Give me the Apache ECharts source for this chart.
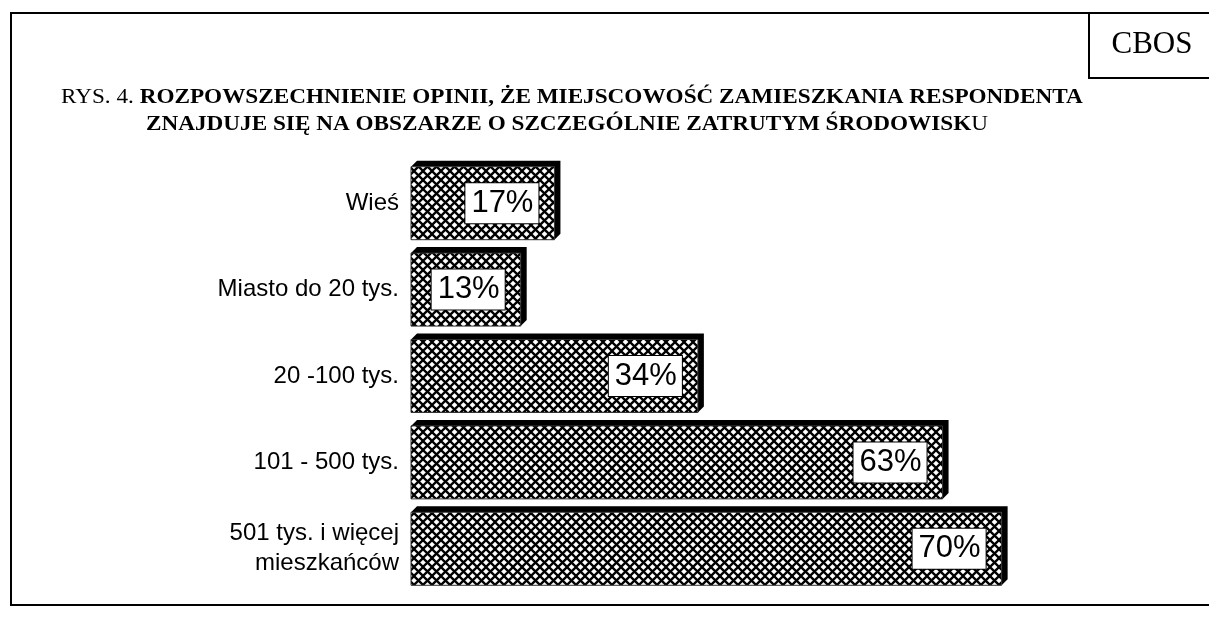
<!DOCTYPE html>
<html>
<head>
<meta charset="utf-8">
<script src="https://cdn.jsdelivr.net/npm/echarts@6/dist/echarts.min.js"></script>
<style>
html,body{margin:0;padding:0;background:#fff;}
#chart{width:1209px;height:628px;}
</style>
</head>
<body>
<div id="chart"></div>
<script>
const categories = ['Wieś', 'Miasto do 20 tys.', '20 -100 tys.', '101 - 500 tys.', '501 tys. i więcej\nmieszkańców'];
const values = [17, 13, 34, 63, 70];
const valueLabels = ['17%', '13%', '34%', '63%', '70%'];
const titleLine1Prefix = 'RYS. 4. ';
const titleLine1 = 'ROZPOWSZECHNIENIE OPINII, ŻE MIEJSCOWOŚĆ ZAMIESZKANIA RESPONDENTA';
const titleLine2Main = 'ZNAJDUJE SIĘ NA OBSZARZE O SZCZEGÓLNIE ZATRUTYM ŚRODOWISK';
const titleLine2End = 'U';
const sourceLabel = 'CBOS';

// crosshatch pattern
const P = 9;
const pc = document.createElement('canvas');
pc.width = P; pc.height = P;
const g = pc.getContext('2d');
g.fillStyle = '#fff'; g.fillRect(0, 0, P, P);
g.strokeStyle = '#000'; g.lineWidth = 2.3;
for (const k of [-P, 0, P]) {
  g.beginPath(); g.moveTo(k, 0); g.lineTo(k + P, P); g.stroke();
  g.beginPath(); g.moveTo(k, P); g.lineTo(k + P, 0); g.stroke();
}
const hatch = { image: pc, repeat: 'repeat' };

const chart = echarts.init(document.getElementById('chart'), null, { renderer: 'canvas' });

const data = values.map((v, i) => [v, i]);

function renderItem(params, api) {
  const v = api.value(0), c = api.value(1);
  const s = api.coord([0, c]);
  const e = api.coord([v, c]);
  const band = api.size([0, 1])[1];
  const h = band * 0.845;
  const d = 6;
  const x = s[0], y = s[1] - h / 2, w = e[0] - s[0];
  return {
    type: 'group',
    children: [
      {
        type: 'polygon',
        shape: { points: [[x, y], [x + d, y - d], [x + w + d, y - d], [x + w + d, y + h - d], [x + w, y + h], [x + w, y]] },
        style: { fill: '#000' }
      },
      {
        type: 'rect',
        shape: { x: x, y: y, width: w, height: h },
        style: { fill: hatch, stroke: '#333', lineWidth: 1 }
      },
      {
        type: 'text',
        x: x + w - 16,
        y: y + h / 2,
        style: {
          text: valueLabels[params.dataIndex],
          fontFamily: 'Liberation Sans, Arial, sans-serif',
          fontSize: 31,
          fill: '#000',
          align: 'right',
          verticalAlign: 'middle',
          backgroundColor: '#fff',
          borderColor: '#000',
          borderWidth: 1,
          padding: [5, 5, 4, 6]
        }
      }
    ]
  };
}

const titleFont = 'Liberation Serif, Times New Roman, serif';

const option = {
  backgroundColor: '#fff',
  animation: false,
  grid: { left: 411, top: 160, height: 432, right: 123 },
  xAxis: { type: 'value', min: 0, max: 80, show: false },
  yAxis: {
    type: 'category',
    data: categories,
    inverse: true,
    axisLine: { show: false },
    axisTick: { show: false },
    splitLine: { show: false },
    axisLabel: {
      margin: 12,
      color: '#000',
      fontFamily: 'Liberation Sans, Arial, sans-serif',
      fontSize: 24,
      lineHeight: 30,
      align: 'right'
    }
  },
  series: [{
    type: 'custom',
    renderItem: renderItem,
    encode: { x: 0, y: 1 },
    data: data,
    clip: false
  }],
  graphic: [
    { type: 'polyline', shape: { points: [[11, 605], [11, 13], [1209, 13]] }, style: { stroke: '#000', lineWidth: 2, fill: null } },
    { type: 'line', shape: { x1: 10, y1: 605, x2: 1209, y2: 605 }, style: { stroke: '#000', lineWidth: 2 } },
    { type: 'polyline', shape: { points: [[1089, 13], [1089, 78], [1209, 78]] }, style: { stroke: '#000', lineWidth: 2, fill: null } },
    {
      type: 'text', x: 1152, y: 45,
      style: { text: sourceLabel, fontFamily: titleFont, fontSize: 31, fill: '#000', align: 'center', verticalAlign: 'middle' }
    },
    {
      type: 'text', x: 61, y: 98, scaleX: 1.16,
      style: {
        text: '{r|' + titleLine1Prefix + '}{b|' + titleLine1 + '}',
        verticalAlign: 'middle',
        rich: {
          r: { fontFamily: titleFont, fontSize: 20, fill: '#000' },
          b: { fontFamily: titleFont, fontSize: 20, fontWeight: 'bold', fill: '#000' }
        }
      }
    },
    {
      type: 'text', x: 146, y: 125, scaleX: 1.16,
      style: {
        text: '{b|' + titleLine2Main + '}{r|' + titleLine2End + '}',
        verticalAlign: 'middle',
        rich: {
          r: { fontFamily: titleFont, fontSize: 20, fill: '#000' },
          b: { fontFamily: titleFont, fontSize: 20, fontWeight: 'bold', fill: '#000' }
        }
      }
    }
  ]
};
chart.setOption(option);
</script>
</body>
</html>
